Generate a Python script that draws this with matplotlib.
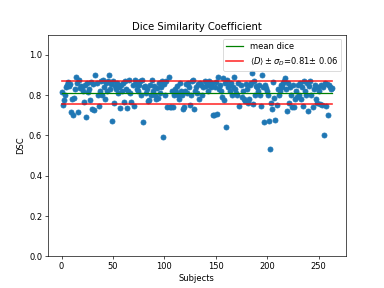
import numpy as np
import matplotlib
matplotlib.use('Agg')
import matplotlib.pyplot as plt

# dice score per subject
dice = [0.815, 0.75, 0.775, 0.80, 0.84, 0.85, 0.865, 0.843, 0.855, 0.716,
        0.78, 0.70, 0.785, 0.83, 0.89, 0.86, 0.715, 0.873, 0.835, 0.845,
        0.84, 0.82, 0.766, 0.85, 0.69, 0.86, 0.815, 0.83, 0.777, 0.865,
        0.733, 0.855, 0.724, 0.90, 0.86, 0.80, 0.745, 0.82, 0.87, 0.80,
        0.875, 0.84, 0.78, 0.86, 0.82, 0.87, 0.898, 0.83, 0.855, 0.67,
        0.87, 0.762, 0.845, 0.83, 0.86, 0.81, 0.84, 0.737, 0.85, 0.82,
        0.86, 0.766, 0.87, 0.83, 0.737, 0.82, 0.875, 0.81, 0.766, 0.85,
        0.745, 0.875, 0.855, 0.83, 0.82, 0.85, 0.87, 0.80, 0.876, 0.667,
        0.84, 0.845, 0.81, 0.83, 0.77, 0.774, 0.85, 0.80, 0.875, 0.82,
        0.845, 0.80, 0.78, 0.835, 0.785, 0.86, 0.81, 0.84, 0.87, 0.592,
        0.855, 0.80, 0.87, 0.741, 0.889, 0.74, 0.74, 0.82, 0.74, 0.80,
        0.83, 0.815, 0.845, 0.80, 0.78, 0.86, 0.82, 0.80, 0.733, 0.74,
        0.82, 0.855, 0.81, 0.86, 0.84, 0.75, 0.80, 0.87, 0.875, 0.733,
        0.82, 0.84, 0.81, 0.855, 0.78, 0.86, 0.85, 0.80, 0.84, 0.87,
        0.845, 0.86, 0.82, 0.87, 0.85, 0.84, 0.86, 0.70, 0.703, 0.84,
        0.865, 0.708, 0.89, 0.83, 0.85, 0.82, 0.79, 0.885, 0.775, 0.86,
        0.642, 0.875, 0.84, 0.85, 0.82, 0.86, 0.80, 0.84, 0.889, 0.83,
        0.81, 0.80, 0.86, 0.745, 0.85, 0.79, 0.82, 0.78, 0.77, 0.855,
        0.83, 0.76, 0.78, 0.85, 0.86, 0.91, 0.757, 0.87, 0.80, 0.845,
        0.84, 0.82, 0.85, 0.80, 0.748, 0.898, 0.84, 0.665, 0.85, 0.835,
        0.82, 0.80, 0.67, 0.531, 0.76, 0.733, 0.865, 0.785, 0.678, 0.75,
        0.83, 0.80, 0.82, 0.85, 0.84, 0.86, 0.87, 0.884, 0.83, 0.721,
        0.86, 0.76, 0.84, 0.80, 0.741, 0.85, 0.74, 0.78, 0.82, 0.79,
        0.85, 0.80, 0.86, 0.78, 0.84, 0.745, 0.87, 0.82, 0.80, 0.86,
        0.721, 0.845, 0.87, 0.80, 0.74, 0.83, 0.85, 0.78, 0.76, 0.84,
        0.82, 0.757, 0.85, 0.75, 0.84, 0.60, 0.86, 0.745, 0.855, 0.703,
        0.85, 0.84, 0.83, 0.835]

d = np.array(dice)
x = np.arange(len(d))
m = d.mean()
s = d.std()

plt.figure(figsize=(6.4, 4.8), dpi=60)
plt.scatter(x, d)
plt.plot([x[0], x[-1]], [m, m], color='green', label='mean dice')
plt.plot([x[0], x[-1]], [m + s, m + s], color='red', alpha=0.8, linewidth=2,
         label=r'$\langle D\rangle\pm\sigma_D$=' + '{:.2f}$\\pm$ {:.2f}'.format(m, s))
plt.plot([x[0], x[-1]], [m - s, m - s], color='red', alpha=0.8, linewidth=2)
plt.ylim(0, 1.1)
plt.xlabel('Subjects')
plt.ylabel('DSC')
plt.title('Dice Similarity Coefficient')
plt.legend(loc='upper right')
plt.savefig('out.png')
